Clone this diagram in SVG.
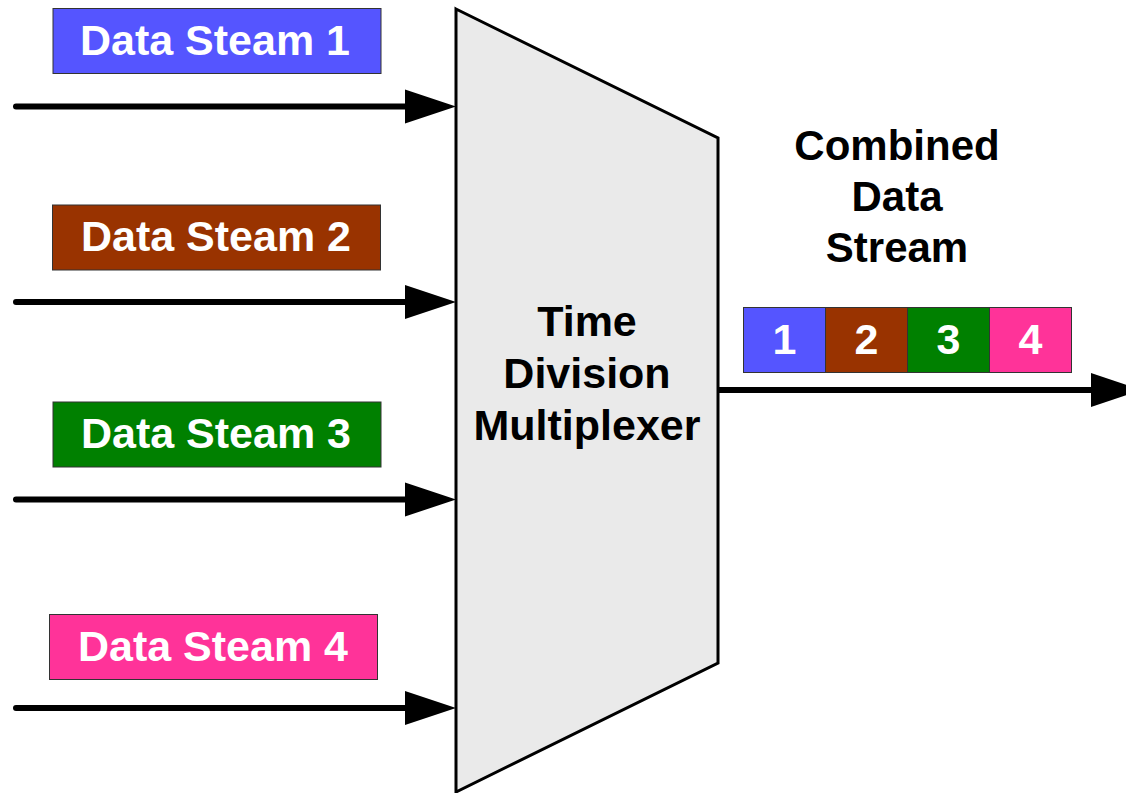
<svg xmlns="http://www.w3.org/2000/svg" width="1126" height="793" viewBox="0 0 1126 793">
<style>
.lbl{font-family:"Liberation Sans",Arial,sans-serif;font-weight:bold;font-size:43px;text-anchor:middle}
.w{fill:#ffffff}
.k{fill:#000000}
.box{stroke:#333333;stroke-width:1}
.conn{stroke:#000000;stroke-width:6;stroke-linecap:round;fill:none;marker-end:url(#ah)}
</style>
<defs>
<marker id="ah" markerUnits="userSpaceOnUse" markerWidth="51" markerHeight="34" refX="15" refY="17" orient="auto" overflow="visible">
<path d="M0,0 L51,17 L0,34 Z" fill="#000000"/>
</marker>
</defs>
<rect width="1126" height="793" fill="#ffffff"/>
<g id="mux">
<polygon points="456,9 718,138 718,663 456,792" fill="#eaeaea" stroke="#000000" stroke-width="3" stroke-linejoin="miter"/>
<text class="lbl k" x="587" y="336">Time</text>
<text class="lbl k" x="587" y="388">Division</text>
<text class="lbl k" x="587" y="440">Multiplexer</text>
</g>
<g id="stream1">
<rect class="box" x="53" y="8.5" width="328" height="65" fill="#5555ff"/>
<text class="lbl w" x="215" y="55">Data Steam 1</text>
</g>
<g id="stream2">
<rect class="box" x="52.5" y="205" width="328" height="65" fill="#993300"/>
<text class="lbl w" x="216" y="251">Data Steam 2</text>
</g>
<g id="stream3">
<rect class="box" x="53" y="402" width="328" height="65" fill="#008000"/>
<text class="lbl w" x="216" y="448">Data Steam 3</text>
</g>
<g id="stream4">
<rect class="box" x="49.5" y="614.5" width="328" height="65" fill="#ff3399"/>
<text class="lbl w" x="213" y="661">Data Steam 4</text>
</g>
<g id="combined-label" style="font-size:42px">
<text class="lbl k" x="897" y="160" style="font-size:42px">Combined</text>
<text class="lbl k" x="897" y="211" style="font-size:42px">Data</text>
<text class="lbl k" x="897" y="262" style="font-size:42px">Stream</text>
</g>
<g id="combined">
<rect class="box" x="743.5" y="307.5" width="82" height="65" fill="#5555ff"/>
<rect class="box" x="825.5" y="307.5" width="82" height="65" fill="#993300"/>
<rect class="box" x="907.5" y="307.5" width="82" height="65" fill="#008000"/>
<rect class="box" x="989.5" y="307.5" width="82" height="65" fill="#ff3399"/>
<text class="lbl w" x="784.5" y="354">1</text>
<text class="lbl w" x="866.5" y="354">2</text>
<text class="lbl w" x="948.5" y="354">3</text>
<text class="lbl w" x="1030.5" y="354">4</text>
</g>
<g id="connectors">
<line class="conn" x1="16" y1="106.5" x2="420" y2="106.5"/>
<line class="conn" x1="16" y1="302" x2="420" y2="302"/>
<line class="conn" x1="16" y1="499.5" x2="420" y2="499.5"/>
<line class="conn" x1="16" y1="708" x2="420" y2="708"/>
<line class="conn" x1="719" y1="390" x2="1106" y2="390" style="stroke-linecap:butt"/>
</g>
</svg>
